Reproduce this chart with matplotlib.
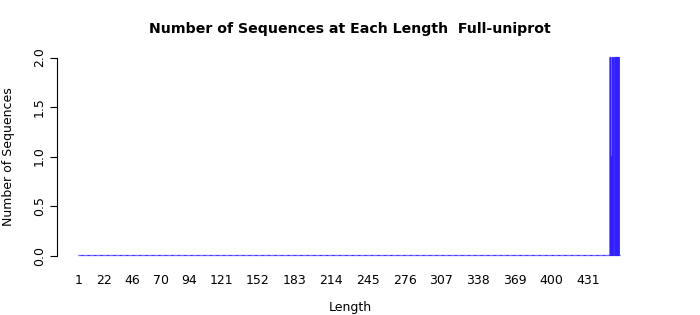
import numpy as np
import matplotlib
matplotlib.use("Agg")
import matplotlib.pyplot as plt

# sequence lengths 1..458, counts
lengths = np.arange(1, 459)
counts = np.zeros(len(lengths))
nonzero_lengths = [450, 451, 452, 454, 455, 456, 457]
nonzero_counts = [2, 1, 2, 2, 2, 2, 2]
for l, c in zip(nonzero_lengths, nonzero_counts):
    counts[l - 1] = c

# labels that R kept on the axis (others dropped for overlap)
shown_labels = [1, 22, 46, 70, 94, 121, 152, 183, 214, 245, 276, 307, 338, 369, 400, 431]
y_ticks = [0.0, 0.5, 1.0, 1.5, 2.0]

fig = plt.figure(figsize=(7, 3.15), dpi=100)
W, H = 700, 315
# axes box in pixels: left, bottom, right, top
left, right, top, bottom = 57, 640, 57.5, 255.5
ax = fig.add_axes([left / W, 1 - bottom / H, (right - left) / W, (bottom - top) / H])

bars = ax.bar(lengths, counts, width=0.83, color="#3a1ee8", edgecolor="#3020ff",
              linewidth=0.9, clip_on=False)
for b in bars:
    b.set_snap(False)

px = 1.1837  # pixels per length unit
ax.set_xlim(1 - (79 - left) / px, 1 + (right - 79) / px)
ax.set_ylim(0, 2)

for s in ["top", "right", "bottom"]:
    ax.spines[s].set_visible(False)
ax.spines["left"].set_linewidth(0.8)

ax.set_yticks(y_ticks)
ax.set_yticklabels([f"{v:.1f}" for v in y_ticks], rotation=90, va="center", fontsize=9)
ax.tick_params(axis="y", length=5, width=0.8, pad=3)

ax.set_xticks(shown_labels)
ax.set_xticklabels([str(v) for v in shown_labels], fontsize=9)
ax.tick_params(axis="x", length=0, pad=13)

ax.set_xlabel("Length", fontsize=9)
ax.xaxis.set_label_coords((350 - left) / (right - left), -(307 - bottom) / (bottom - top))
ax.xaxis.label.set_va("center")
ax.set_ylabel("Number of Sequences", fontsize=9)
ax.yaxis.set_label_coords(-(left - 9) / (right - left), 0.5)
ax.yaxis.label.set_va("center")
fig.text(350 / W, 1 - 29 / H, "Number of Sequences at Each Length  Full-uniprot",
         ha="center", va="center", fontsize=10.2, fontweight="bold")

fig.savefig("out.png", dpi=100)
